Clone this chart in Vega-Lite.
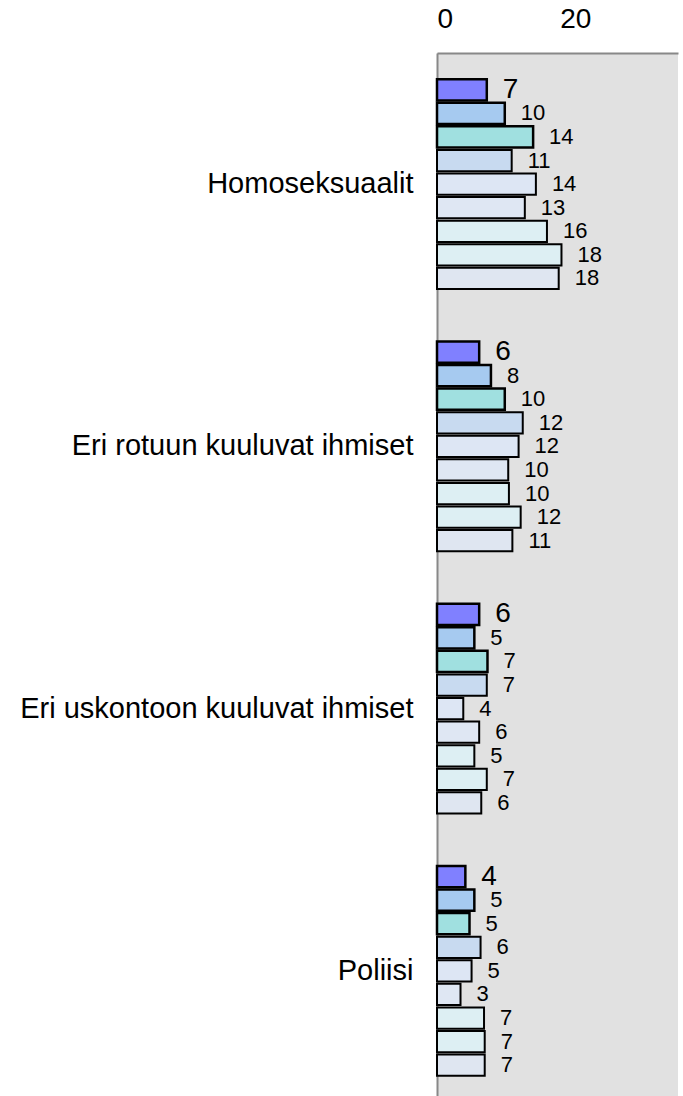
{
  "$schema": "https://vega.github.io/schema/vega-lite/v6.json",
  "autosize": {"type": "none"},
  "padding": {"left": 437, "top": 53, "right": 5, "bottom": 0},
  "width": 241,
  "height": 1049,
  "config": {
    "view": {"fill": "#e1e1e1", "stroke": null},
    "font": "Liberation Sans"
  },
  "data": {
    "values": [
      {"group": "Homoseksuaalit", "s": 1, "v": 7.2},
      {"group": "Homoseksuaalit", "s": 2, "v": 9.8},
      {"group": "Homoseksuaalit", "s": 3, "v": 13.9},
      {"group": "Homoseksuaalit", "s": 4, "v": 10.8},
      {"group": "Homoseksuaalit", "s": 5, "v": 14.3},
      {"group": "Homoseksuaalit", "s": 6, "v": 12.7},
      {"group": "Homoseksuaalit", "s": 7, "v": 15.9},
      {"group": "Homoseksuaalit", "s": 8, "v": 18.0},
      {"group": "Homoseksuaalit", "s": 9, "v": 17.6},
      {"group": "Eri rotuun kuuluvat ihmiset", "s": 1, "v": 6.1},
      {"group": "Eri rotuun kuuluvat ihmiset", "s": 2, "v": 7.8},
      {"group": "Eri rotuun kuuluvat ihmiset", "s": 3, "v": 9.8},
      {"group": "Eri rotuun kuuluvat ihmiset", "s": 4, "v": 12.4},
      {"group": "Eri rotuun kuuluvat ihmiset", "s": 5, "v": 11.8},
      {"group": "Eri rotuun kuuluvat ihmiset", "s": 6, "v": 10.3},
      {"group": "Eri rotuun kuuluvat ihmiset", "s": 7, "v": 10.4},
      {"group": "Eri rotuun kuuluvat ihmiset", "s": 8, "v": 12.1},
      {"group": "Eri rotuun kuuluvat ihmiset", "s": 9, "v": 10.9},
      {"group": "Eri uskontoon kuuluvat ihmiset", "s": 1, "v": 6.1},
      {"group": "Eri uskontoon kuuluvat ihmiset", "s": 2, "v": 5.4},
      {"group": "Eri uskontoon kuuluvat ihmiset", "s": 3, "v": 7.3},
      {"group": "Eri uskontoon kuuluvat ihmiset", "s": 4, "v": 7.2},
      {"group": "Eri uskontoon kuuluvat ihmiset", "s": 5, "v": 3.8},
      {"group": "Eri uskontoon kuuluvat ihmiset", "s": 6, "v": 6.1},
      {"group": "Eri uskontoon kuuluvat ihmiset", "s": 7, "v": 5.4},
      {"group": "Eri uskontoon kuuluvat ihmiset", "s": 8, "v": 7.2},
      {"group": "Eri uskontoon kuuluvat ihmiset", "s": 9, "v": 6.4},
      {"group": "Poliisi", "s": 1, "v": 4.1},
      {"group": "Poliisi", "s": 2, "v": 5.4},
      {"group": "Poliisi", "s": 3, "v": 4.7},
      {"group": "Poliisi", "s": 4, "v": 6.3},
      {"group": "Poliisi", "s": 5, "v": 5.0},
      {"group": "Poliisi", "s": 6, "v": 3.4},
      {"group": "Poliisi", "s": 7, "v": 6.8},
      {"group": "Poliisi", "s": 8, "v": 6.9},
      {"group": "Poliisi", "s": 9, "v": 6.9}
    ]
  },
  "encoding": {
    "y": {
      "field": "group",
      "type": "nominal",
      "sort": null,
      "scale": {"paddingInner": 0.2, "paddingOuter": 0.1},
      "axis": {
        "title": null,
        "ticks": false,
        "tickSize": 0,
        "labelPadding": 24,
        "labelFontSize": 29,
        "labelFont": "Liberation Sans",
        "labelColor": "#000000",
        "labelLimit": 0,
        "domain": true,
        "domainColor": "#888888",
        "domainWidth": 2,
        "grid": false
      }
    },
    "yOffset": {
      "field": "s",
      "type": "ordinal",
      "scale": {"paddingInner": 0.1, "paddingOuter": 0}
    },
    "x": {
      "field": "v",
      "type": "quantitative",
      "scale": {"domain": [0, 34.85], "nice": false, "zero": true},
      "axis": {
        "orient": "top",
        "title": null,
        "values": [0, 20],
        "ticks": false,
        "tickSize": 0,
        "labelPadding": 20,
        "labelFontSize": 28,
        "labelFont": "Liberation Sans",
        "labelColor": "#000000",
        "domain": true,
        "domainColor": "#888888",
        "domainWidth": 2,
        "grid": false
      }
    }
  },
  "layer": [
    {
      "mark": {"type": "bar", "stroke": "#000000", "strokeJoin": "miter"},
      "encoding": {
        "color": {
          "field": "s",
          "type": "ordinal",
          "scale": {
            "domain": [1, 2, 3, 4, 5, 6, 7, 8, 9],
            "range": ["#8080ff", "#a6caf0", "#a0e0e0", "#c8daf0", "#dde6f4", "#dfe7f3", "#ddeff3", "#ddeff3", "#dfe6f1"]
          },
          "legend": null
        },
        "strokeWidth": {
          "condition": {"test": "datum.s <= 3", "value": 2.5},
          "value": 2
        }
      }
    },
    {
      "mark": {"type": "text", "align": "left", "baseline": "middle", "dx": 16, "color": "#000000", "font": "Liberation Sans"},
      "encoding": {
        "text": {"field": "v", "type": "quantitative", "format": ".0f"},
        "size": {
          "condition": {"test": "datum.s == 1", "value": 28},
          "value": 22
        }
      }
    }
  ]
}
